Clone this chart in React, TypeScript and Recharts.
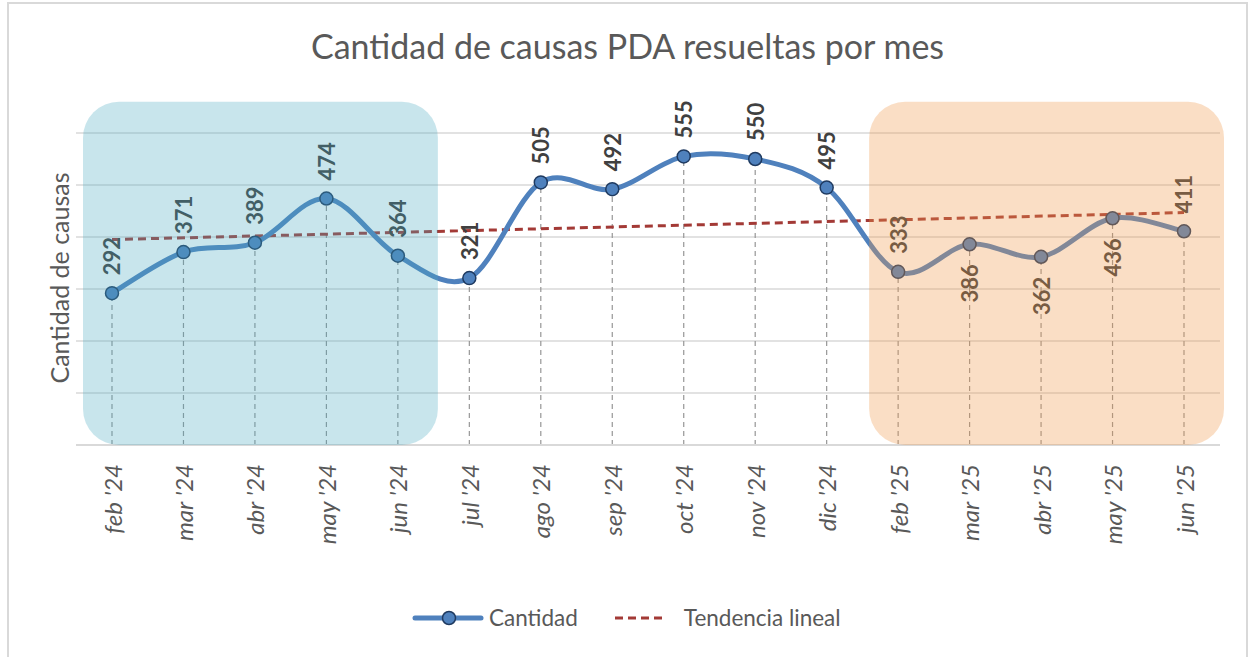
import React from "react";
import {
  LineChart,
  Line,
  XAxis,
  YAxis,
  CartesianGrid,
  ReferenceArea,
  ReferenceLine,
  LabelList,
} from "recharts";

const months = [
  "feb '24", "mar '24", "abr '24", "may '24", "jun '24", "jul '24", "ago '24", "sep '24",
  "oct '24", "nov '24", "dic '24", "feb '25", "mar '25", "abr '25", "may '25", "jun '25",
];
const cantidad = [292, 371, 389, 474, 364, 321, 505, 492, 555, 550, 495, 333, 386, 362, 436, 411];
// tendencia lineal: extremos
const trendStart = 395;
const trendEnd = 447;
const yTicks = [0, 100, 200, 300, 400, 500, 600];

const chartData = months.map((mes, i) => ({
  mes,
  cantidad: cantidad[i],
  tendencia: i === 0 ? trendStart : i === months.length - 1 ? trendEnd : null,
}));

const FONT = "Lato, 'Open Sans', sans-serif";
const BLUE = "#4F81BD";
const TREND = "#A33A36";
const below = new Set(["mar '25", "abr '25", "may '25"]);

// suavizado tipo Excel (Catmull-Rom -> Bezier)
const excelSmooth = (context: any) => {
  let pts: number[][] = [];
  return {
    areaStart() {},
    areaEnd() {},
    lineStart() {
      pts = [];
    },
    point(x: number, y: number) {
      pts.push([+x, +y]);
    },
    lineEnd() {
      if (!pts.length) return;
      context.moveTo(pts[0][0], pts[0][1]);
      for (let i = 0; i < pts.length - 1; i++) {
        const p0 = pts[i - 1] || pts[i];
        const p1 = pts[i];
        const p2 = pts[i + 1];
        const p3 = pts[i + 2] || p2;
        context.bezierCurveTo(
          p1[0] + (p2[0] - p0[0]) / 6,
          p1[1] + (p2[1] - p0[1]) / 6,
          p2[0] - (p3[0] - p1[0]) / 6,
          p2[1] - (p3[1] - p1[1]) / 6,
          p2[0],
          p2[1]
        );
      }
    },
  };
};

const MonthTick = (props: any) => {
  const { x, y, payload } = props;
  const ty = y + 19;
  return (
    <text
      x={x}
      y={ty}
      transform={`rotate(-90, ${x}, ${ty})`}
      textAnchor="end"
      dominantBaseline="central"
      fontStyle="italic"
      fontSize={24}
      fontFamily={FONT}
      fill="#595959"
    >
      {payload.value}
    </text>
  );
};

const renderLabel = (props: any) => {
  const { x, y, value, index } = props;
  const isBelow = below.has(months[index]);
  const ly = isBelow ? y + 20 : y - 18;
  return (
    <text
      x={x}
      y={ly}
      transform={`rotate(-90, ${x}, ${ly})`}
      textAnchor={isBelow ? "end" : "start"}
      dominantBaseline="central"
      fontWeight="bold"
      fontSize={22}
      fontFamily={FONT}
      fill="#404040"
    >
      {value}
    </text>
  );
};

const Overlay = (fill: string, opacity: number) => (props: any) => {
  const { x, y, width, height } = props;
  return (
    <rect
      x={x - 29}
      y={y}
      width={width + 69}
      height={height}
      rx={36}
      ry={36}
      fill={fill}
      fillOpacity={opacity}
    />
  );
};

export default function App() {
  return (
    <div
      style={{
        position: "absolute",
        left: 7,
        top: 2,
        width: 1237,
        height: 680,
        border: "2px solid #D9D9D9",
        background: "#fff",
        fontFamily: FONT,
      }}
    >
      <div
        style={{
          position: "absolute",
          left: 0,
          width: 1237,
          top: 23,
          textAlign: "center",
          fontSize: 34,
          lineHeight: "38px",
          color: "#595959",
        }}
      >
        Cantidad de causas PDA resueltas por mes
      </div>
      <div
        style={{
          position: "absolute",
          left: 50,
          top: 274,
          transform: "translate(-50%, -50%) rotate(-90deg)",
          whiteSpace: "nowrap",
          fontSize: 25,
          color: "#595959",
        }}
      >
        Cantidad de causas
      </div>

      <LineChart
        width={1237}
        height={660}
        data={chartData}
        margin={{ top: 129, right: 26, bottom: 119, left: 67 }}
      >
        <CartesianGrid vertical={false} stroke="#D9D9D9" strokeWidth={1.5} />
        <XAxis
          dataKey="mes"
          interval={0}
          padding={{ left: 36, right: 36 }}
          tickLine={false}
          tickSize={0}
          tickMargin={0}
          axisLine={{ stroke: "#D9D9D9", strokeWidth: 2 }}
          tick={MonthTick}
          height={100}
        />
        <YAxis hide domain={[0, 600]} ticks={yTicks} />
        {months.map((m, i) => (
          <ReferenceLine
            key={m}
            segment={[
              { x: m, y: 0 },
              { x: m, y: cantidad[i] },
            ]}
            stroke="#969696"
            strokeWidth={1.2}
            strokeDasharray="5 4"
            zIndex={350}
          />
        ))}
        <Line
          dataKey="tendencia"
          type="linear"
          connectNulls
          stroke={TREND}
          strokeWidth={3}
          strokeDasharray="8 5"
          dot={false}
          activeDot={false}
          isAnimationActive={false}
        />
        <Line
          dataKey="cantidad"
          type={excelSmooth as any}
          stroke={BLUE}
          strokeWidth={5}
          dot={{ r: 6.5, fill: BLUE, stroke: "#1F3A60", strokeWidth: 1.5 }}
          activeDot={false}
          isAnimationActive={false}
        >
          <LabelList dataKey="cantidad" content={renderLabel} />
        </Line>
        <ReferenceArea
          x1="feb '24"
          x2="jun '24"
          y1={0}
          y2={660}
          ifOverflow="visible"
          shape={Overlay("#48A8C0", 0.3)}
          zIndex={3000}
        />
        <ReferenceArea
          x1="feb '25"
          x2="jun '25"
          y1={0}
          y2={660}
          ifOverflow="visible"
          shape={Overlay("#EF994A", 0.32)}
          zIndex={3000}
        />
      </LineChart>

      <div
        style={{
          position: "absolute",
          left: 402,
          top: 600,
          display: "flex",
          alignItems: "center",
          fontSize: 22.5,
          color: "#595959",
        }}
      >
        <svg width={74} height={24}>
          <line x1={4} y1={12} x2={70} y2={12} stroke={BLUE} strokeWidth={5} strokeLinecap="round" />
          <circle cx={38} cy={12} r={6.5} fill={BLUE} stroke="#1F3A60" strokeWidth={1.5} />
        </svg>
        <span style={{ marginLeft: 4 }}>Cantidad</span>
        <svg width={56} height={24} style={{ marginLeft: 35 }}>
          <line x1={2} y1={12} x2={54} y2={12} stroke={TREND} strokeWidth={3} strokeDasharray="8 5" />
        </svg>
        <span style={{ marginLeft: 15 }}>Tendencia lineal</span>
      </div>
    </div>
  );
}
